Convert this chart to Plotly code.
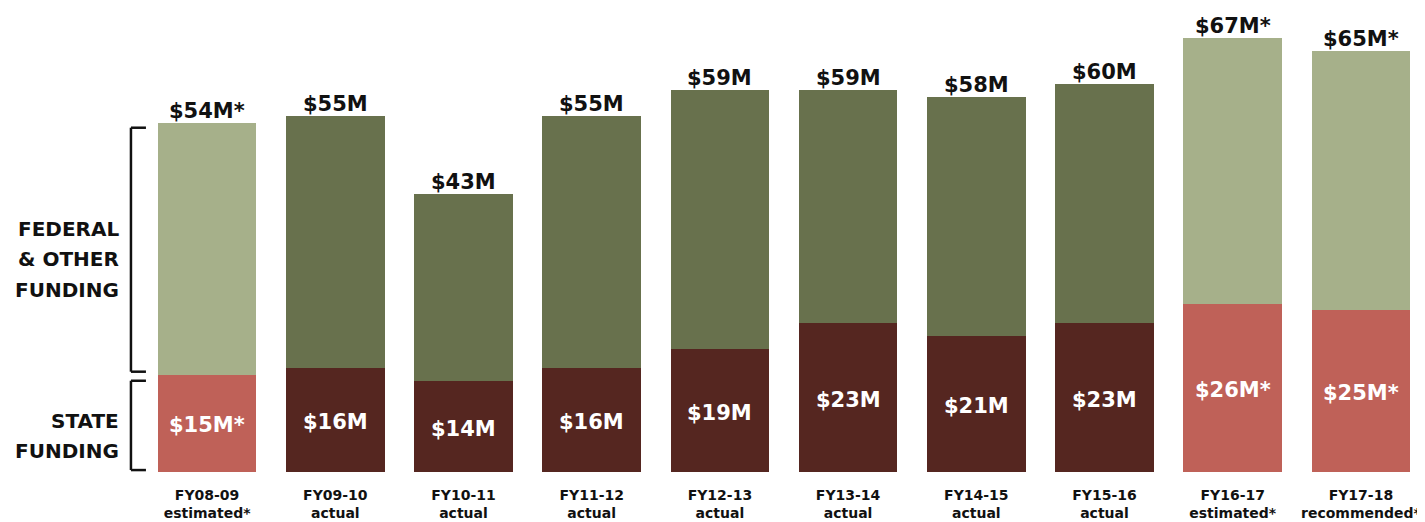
import plotly.graph_objects as go

categories = ["FY08-09<br>estimated*", "FY09-10<br>actual", "FY10-11<br>actual", "FY11-12<br>actual",
              "FY12-13<br>actual", "FY13-14<br>actual", "FY14-15<br>actual", "FY15-16<br>actual",
              "FY16-17<br>estimated*", "FY17-18<br>recommended*"]
state = [15, 16, 14, 16, 19, 23, 21, 23, 26, 25]
other = [39, 39, 29, 39, 40, 36, 37, 37, 41, 40]
total = [54, 55, 43, 55, 59, 59, 58, 60, 67, 65]
state_labels = ["$15M*", "$16M", "$14M", "$16M", "$19M", "$23M", "$21M", "$23M", "$26M*", "$25M*"]
total_labels = ["$54M*", "$55M", "$43M", "$55M", "$59M", "$59M", "$58M", "$60M", "$67M*", "$65M*"]
estimated = [True, False, False, False, False, False, False, False, True, True]

LIGHT_GREEN = "#a6b08a"
DARK_GREEN = "#68714d"
MAROON = "#552620"
SALMON = "#bf6158"

state_colors = [SALMON if e else MAROON for e in estimated]
other_colors = [LIGHT_GREEN if e else DARK_GREEN for e in estimated]

FONT = "DejaVu Sans"

fig = go.Figure()
fig.add_trace(go.Bar(x=categories, y=state, marker=dict(color=state_colors, line=dict(width=0)),
                     width=0.77, hoverinfo="skip"))
fig.add_trace(go.Bar(x=categories, y=other, marker=dict(color=other_colors, line=dict(width=0)),
                     width=0.77, hoverinfo="skip"))

for c, s, t, sl, tl in zip(categories, state, total, state_labels, total_labels):
    fig.add_annotation(x=c, y=t, text=tl, showarrow=False, yanchor="bottom", yshift=-2,
                       font=dict(family=FONT, size=21, color="#111111", weight="bold"))
    fig.add_annotation(x=c, y=s / 2, text=sl, showarrow=False, yanchor="middle", yshift=-2,
                       font=dict(family=FONT, size=21, color="white", weight="bold"))

# brackets
def bracket(y0, y1):
    xl, xr = -0.0094, 0.0023
    fig.add_shape(type="line", xref="paper", yref="y", x0=xl, x1=xl, y0=y0, y1=y1,
                  line=dict(color="#111111", width=2.5))
    fig.add_shape(type="line", xref="paper", yref="y", x0=xl, x1=xr, y0=y0, y1=y0,
                  line=dict(color="#111111", width=2.5))
    fig.add_shape(type="line", xref="paper", yref="y", x0=xl, x1=xr, y0=y1, y1=y1,
                  line=dict(color="#111111", width=2.5))

bracket(15.5, 53.2)
bracket(0.3, 14.1)

side_lines = ["FEDERAL", "& OTHER", "FUNDING", "STATE", "FUNDING"]
side_y = [37.56, 32.92, 28.13, 7.88, 3.25]
for txt, yy in zip(side_lines, side_y):
    fig.add_annotation(xref="paper", yref="y", x=-0.0172, y=yy, xanchor="right", yanchor="middle",
                       text=txt, showarrow=False, align="right",
                       font=dict(family=FONT, size=20, color="#111111", weight="bold"))

fig.update_layout(
    barmode="stack",
    showlegend=False,
    width=1425, height=514,
    margin=dict(l=135, r=8, t=0, b=50),
    plot_bgcolor="white", paper_bgcolor="white",
    xaxis=dict(range=[-0.5, 9.5], showgrid=False, showline=False, zeroline=False, ticks="",
               ticklabelstandoff=13,
               tickfont=dict(family=FONT, size=14, color="#111111", weight="bold")),
    yaxis=dict(range=[0, 71.7], visible=False),
)

fig.write_html("out.html")
